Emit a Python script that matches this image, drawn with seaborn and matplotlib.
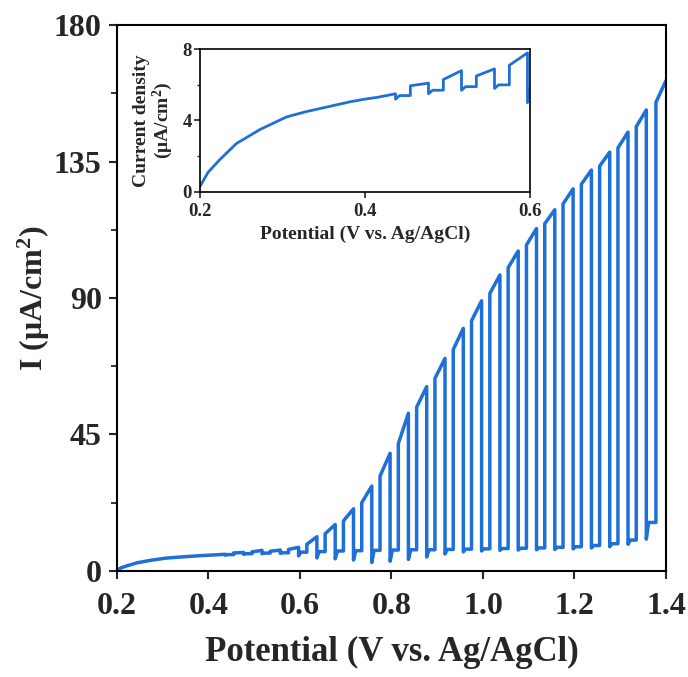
import numpy as np
import pandas as pd
import matplotlib
matplotlib.use("Agg")
import matplotlib.pyplot as plt
from matplotlib.ticker import MultipleLocator
import seaborn as sns

sns.set_theme(style="ticks")
plt.rcParams["font.family"] = ["Liberation Serif", "DejaVu Serif"]
plt.rcParams["font.weight"] = "bold"
plt.rcParams["mathtext.fontset"] = "custom"
plt.rcParams["mathtext.rm"] = "Liberation Serif:bold"
plt.rcParams["mathtext.bf"] = "Liberation Serif:bold"
plt.rcParams["mathtext.it"] = "Liberation Serif:bold"

# ---- data ----
# dark current before chopping is visible
dark_v = [0.200, 0.210, 0.224, 0.244, 0.273, 0.305, 0.329, 0.353, 0.382, 0.400, 0.415]
dark_i = [0.3, 1.1, 1.8, 2.7, 3.5, 4.2, 4.5, 4.75, 5.05, 5.2, 5.3]

# chopped-light cycles
v_on = [0.415, 0.455, 0.495, 0.535, 0.575, 0.615, 0.655, 0.695, 0.735, 0.775,
        0.815, 0.855, 0.895, 0.935, 0.975, 1.015, 1.055, 1.095, 1.135, 1.175,
        1.215, 1.255, 1.295, 1.335, 1.378]
v_off = [0.437, 0.477, 0.517, 0.557, 0.597, 0.637, 0.677, 0.717, 0.757, 0.797,
         0.837, 0.877, 0.917, 0.957, 0.997, 1.037, 1.077, 1.117, 1.157, 1.197,
         1.237, 1.277, 1.317, 1.357, 1.400]
i_on = [5.3, 5.95, 6.3, 6.5, 7.1, 8.8, 12.3, 16.5, 22.5, 31.3,
        42.0, 54.0, 63.5, 73.0, 82.5, 91.5, 100.0, 107.5, 114.5, 121.0,
        127.5, 133.5, 139.5, 146.5, 154.5]
i_off = [5.5, 6.1, 6.8, 6.9, 7.8, 11.3, 15.3, 20.5, 28.0, 38.8,
         52.0, 60.8, 70.1, 80.0, 89.1, 97.6, 105.5, 112.9, 119.1, 126.0,
         132.2, 138.1, 144.7, 152.0, 161.7]
i_dip = [5.2, 5.5, 5.7, 5.8, 5.0, 4.3, 4.0, 3.6, 2.8, 3.2,
         3.8, 4.6, 5.6, 6.3, 6.6, 6.8, 6.9, 7.0, 7.1, 7.3,
         7.6, 8.0, 8.8, 10.5, 161.7]
i_dark_end = [5.4, 5.7, 5.9, 6.0, 6.2, 6.4, 6.6, 6.7, 6.8, 6.9,
              7.0, 7.0, 7.1, 7.2, 7.3, 7.4, 7.5, 7.6, 7.8, 8.0,
              8.4, 9.0, 10.2, 16.0, 161.7]

# ---- build the trace ----
xs, ys = list(dark_v), list(dark_i)
for k in range(len(v_on)):
    xs += [v_on[k], v_off[k], v_off[k]]
    ys += [i_on[k], i_off[k], i_dip[k]]
    if k < len(v_on) - 1:
        xs += [v_off[k] + 0.005, v_on[k + 1]]
        ys += [i_dark_end[k], i_dark_end[k]]
df = pd.DataFrame({"E": xs, "I": ys, "step": np.arange(len(xs))})

blue = "#1f6fd9"

fig = plt.figure(figsize=(6.88, 6.77), dpi=100)
ax = fig.add_axes([0.170, 0.1566, 0.798, 0.8064])
sns.lineplot(data=df, x="E", y="I", sort=False, estimator=None, ax=ax,
             color=blue, linewidth=2.5)
ax.set_xlim(0.2, 1.4)
ax.set_ylim(0, 180)
ax.set_xticks([0.2, 0.4, 0.6, 0.8, 1.0, 1.2, 1.4])
ax.set_xticklabels(["0.2", "0.4", "0.6", "0.8", "1.0", "1.2", "1.4"])
ax.set_yticks([0, 45, 90, 135, 180])
ax.yaxis.set_minor_locator(MultipleLocator(22.5))
ax.tick_params(axis="both", which="major", direction="out", length=6, width=1.5,
               labelsize=23)
ax.tick_params(axis="x", which="major", pad=9)
ax.tick_params(axis="y", which="major", pad=5)
ax.tick_params(axis="y", which="minor", direction="out", length=4, width=1.3)
for s in ax.spines.values():
    s.set_linewidth(1.5)
    s.set_color("black")
ax.set_xlabel("Potential (V vs. Ag/AgCl)", fontsize=25, fontweight="bold", labelpad=11)
ax.set_ylabel("I (μA/cm$^{2}$)", fontsize=23, fontweight="bold", labelpad=1)
for lab in ax.get_xticklabels() + ax.get_yticklabels():
    lab.set_fontweight("bold")

# ---- inset ----
ins = fig.add_axes([0.2907, 0.7169, 0.4796, 0.2103])
sns.lineplot(data=df, x="E", y="I", sort=False, estimator=None, ax=ins,
             color=blue, linewidth=2.0)
ins.set_xlim(0.2, 0.6)
ins.set_ylim(0, 8)
ins.set_xticks([0.2, 0.4, 0.6])
ins.set_xticklabels(["0.2", "0.4", "0.6"])
ins.set_yticks([0, 4, 8])
ins.yaxis.set_minor_locator(MultipleLocator(2))
ins.tick_params(axis="both", which="major", direction="out", length=4, width=1.2,
                labelsize=13.5, pad=2)
ins.tick_params(axis="x", which="major", pad=4)
ins.tick_params(axis="y", which="minor", direction="out", length=2.5, width=1.0)
for s in ins.spines.values():
    s.set_linewidth(1.2)
    s.set_color("black")
ins.set_xlabel("Potential (V vs. Ag/AgCl)", fontsize=14, fontweight="bold", labelpad=4)
ins.set_ylabel("Current density\n(μA/cm$^{2}$)", fontsize=14, fontweight="bold",
               labelpad=5, linespacing=1.05)
for lab in ins.get_xticklabels() + ins.get_yticklabels():
    lab.set_fontweight("bold")

fig.savefig("out.png", dpi=100)
